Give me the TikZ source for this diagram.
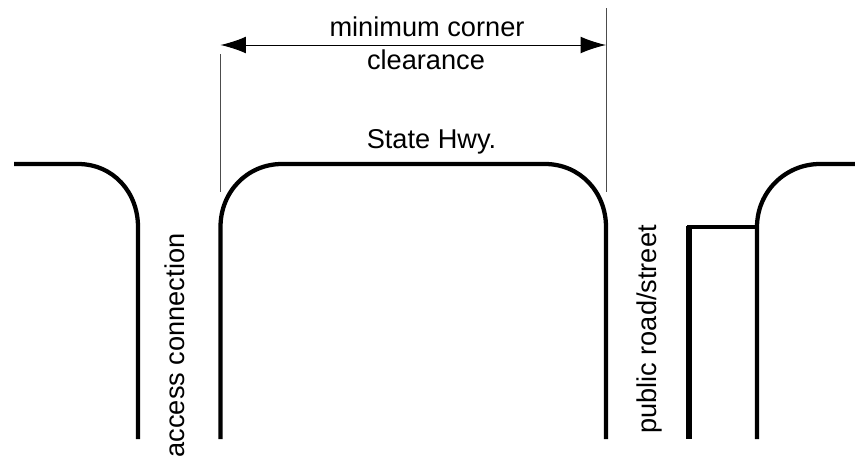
\documentclass[tikz,border=0pt]{standalone}
\usepackage{fontspec}
\setmainfont{Liberation Sans}
\usetikzlibrary{arrows.meta}
\tikzset{
  road/.style={line width=3.2pt,line join=round},
  thin line/.style={line width=0.6pt,draw=black!70},
  dim/.style={line width=0.75pt,{Latex[length=19pt,width=12.5pt]}-{Latex[length=19pt,width=12.5pt]}},
  lab/.style={inner sep=0pt,font=\fontsize{20.4pt}{22pt}\selectfont,anchor=base},
}
\begin{document}
\begin{tikzpicture}[x=0.75pt,y=-0.75pt]
\useasboundingbox (0,0) rectangle (855,457);
% coordinates
\coordinate (LA) at (14,164);
\coordinate (LB) at (78,164);
\coordinate (LC) at (138,227);
\coordinate (LD) at (138,439);
\coordinate (CA) at (220.5,439);
\coordinate (CB) at (220.5,227);
\coordinate (CC) at (282,164);
\coordinate (CD) at (545,164);
\coordinate (CE) at (606,227);
\coordinate (CF) at (606,439);
\coordinate (RA) at (855,164);
\coordinate (RB) at (820,164);
\coordinate (RC) at (757,227);
\coordinate (RD) at (757,439);
\coordinate (TA) at (689,226);
\coordinate (TB) at (689,439);
\coordinate (WA) at (220.5,54);
\coordinate (WB) at (220.5,192);
\coordinate (WC) at (606,8);
\coordinate (WD) at (606,192);
\coordinate (DA) at (220.5,45);
\coordinate (DB) at (606,45);
% roads
\draw[road] (LA) -- (LB) .. controls (113,164) and (138,192) .. (LC) -- (LD);
\draw[road] (CA) -- (CB) .. controls (220.5,192) and (247,164) .. (CC) -- (CD)
  .. controls (580,164) and (606,192) .. (CE) -- (CF);
\draw[road] (RA) -- (RB) .. controls (785,164) and (757,192) .. (RC) -- (RD);
\draw[road] (687,227) -- (RC);
\draw[line width=4.6pt] (TA) -- (TB);
% witness lines
\draw[thin line] (WA) -- (WB);
\draw[thin line] (WC) -- (WD);
\draw[dim] (DA) -- (DB);
% labels
\node[lab] (t1) at (427,36) {minimum corner};
\node[lab] (t2) at (426,69) {clearance};
\node[lab] (t3) at (431.5,148) {State Hwy.};
\node[lab,rotate=90] (t4) at (184,345.5) {access connection};
\node[lab,rotate=90] (t5) at (656,329.5) {public road/street};
\end{tikzpicture}
\end{document}
